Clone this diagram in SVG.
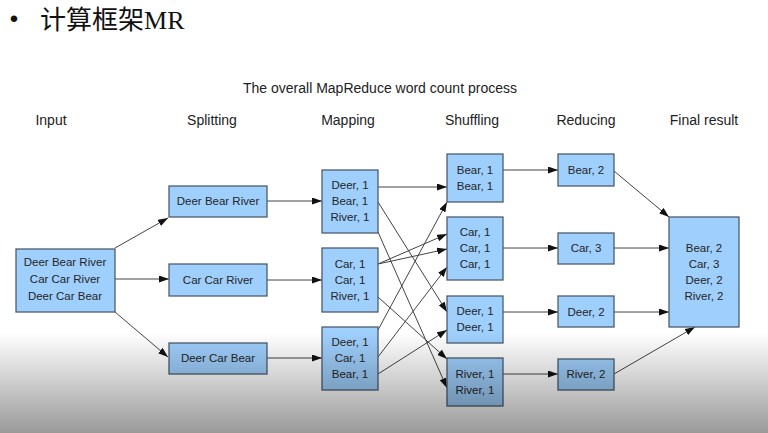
<svg xmlns="http://www.w3.org/2000/svg" width="768" height="433" viewBox="0 0 768 433">
<defs>
<marker id="ah" markerWidth="10" markerHeight="7" refX="10" refY="3.5" orient="auto" markerUnits="userSpaceOnUse">
<path d="M0,0 L10,3.5 L0,7 z" fill="#111"/>
</marker>
<linearGradient id="shade" x1="0" y1="0" x2="0" y2="1">
<stop offset="0" stop-color="#000" stop-opacity="0"/>
<stop offset="1" stop-color="#000" stop-opacity="0.4"/>
</linearGradient>
<style>
.box{fill:#9fcffc;stroke:#4d5d6d;stroke-width:1.3}
.t{font-family:"Liberation Sans",Arial,sans-serif;font-size:11.5px;fill:#252525;text-anchor:middle}
.h{font-family:"Liberation Sans",Arial,sans-serif;font-size:14px;fill:#222;text-anchor:middle}
.c{fill:none;stroke:#444;stroke-width:1;marker-end:url(#ah)}
</style>
</defs>
<rect width="768" height="433" fill="#fff"/>
<g id="heading">
<text x="14" y="27" font-family="Liberation Sans, sans-serif" font-size="24" text-anchor="middle" fill="#111">•</text>
<text x="40" y="29" font-size="26" fill="#111"><tspan font-family="Noto Sans CJK SC, sans-serif">计算框架</tspan><tspan font-family="Liberation Serif, serif">MR</tspan></text>
</g>
<g id="titles">
<text class="h" x="380" y="93">The overall MapReduce word count process</text>
<text class="h" x="51" y="125">Input</text>
<text class="h" x="212" y="125">Splitting</text>
<text class="h" x="348" y="125">Mapping</text>
<text class="h" x="472" y="125">Shuffling</text>
<text class="h" x="586" y="125">Reducing</text>
<text class="h" x="704" y="125">Final result</text>
</g>
<g id="connectors">
<line class="c" x1="115" y1="248" x2="168" y2="218"/>
<line class="c" x1="115" y1="279" x2="169" y2="279"/>
<line class="c" x1="115" y1="312" x2="168" y2="357"/>
<line class="c" x1="267" y1="201" x2="322" y2="201"/>
<line class="c" x1="267" y1="280" x2="322" y2="280"/>
<line class="c" x1="267" y1="358" x2="322" y2="358"/>
<line class="c" x1="378" y1="187" x2="447" y2="187"/>
<line class="c" x1="378" y1="202" x2="447" y2="312"/>
<line class="c" x1="378" y1="232" x2="447" y2="388"/>
<line class="c" x1="378" y1="264" x2="447" y2="234"/>
<line class="c" x1="378" y1="264" x2="447" y2="249"/>
<line class="c" x1="378" y1="297" x2="447" y2="359"/>
<line class="c" x1="378" y1="330" x2="447" y2="202"/>
<line class="c" x1="378" y1="357" x2="447" y2="267"/>
<line class="c" x1="378" y1="374" x2="447" y2="330"/>
<line class="c" x1="503" y1="170" x2="558" y2="170"/>
<line class="c" x1="503" y1="248" x2="558" y2="248"/>
<line class="c" x1="503" y1="312" x2="558" y2="312"/>
<line class="c" x1="503" y1="374" x2="558" y2="374"/>
<line class="c" x1="614" y1="171" x2="669" y2="217"/>
<line class="c" x1="614" y1="248" x2="669" y2="248"/>
<line class="c" x1="614" y1="312" x2="669" y2="312"/>
<line class="c" x1="614" y1="374" x2="695" y2="327"/>
</g>
<g id="input">
<rect class="box" x="16" y="249" width="99" height="63"/>
<text class="t" x="65" y="266">Deer Bear River</text>
<text class="t" x="65" y="283">Car Car River</text>
<text class="t" x="65" y="300">Deer Car Bear</text>
</g>
<g id="split1"><rect class="box" x="169" y="186" width="98" height="31"/><text class="t" x="218" y="205">Deer Bear River</text></g>
<g id="split2"><rect class="box" x="169" y="264" width="98" height="32"/><text class="t" x="218" y="284">Car Car River</text></g>
<g id="split3"><rect class="box" x="169" y="343" width="98" height="31"/><text class="t" x="218" y="362">Deer Car Bear</text></g>
<g id="map1"><rect class="box" x="322" y="170" width="56" height="63"/>
<text class="t" x="350" y="189">Deer, 1</text><text class="t" x="350" y="205">Bear, 1</text><text class="t" x="350" y="221">River, 1</text></g>
<g id="map2"><rect class="box" x="322" y="248" width="56" height="64"/>
<text class="t" x="350" y="268">Car, 1</text><text class="t" x="350" y="284">Car, 1</text><text class="t" x="350" y="300">River, 1</text></g>
<g id="map3"><rect class="box" x="322" y="327" width="56" height="63"/>
<text class="t" x="350" y="346">Deer, 1</text><text class="t" x="350" y="362">Car, 1</text><text class="t" x="350" y="378">Bear, 1</text></g>
<g id="shuf1"><rect class="box" x="447" y="154" width="56" height="48"/>
<text class="t" x="475" y="174">Bear, 1</text><text class="t" x="475" y="190">Bear, 1</text></g>
<g id="shuf2"><rect class="box" x="447" y="217" width="56" height="63"/>
<text class="t" x="475" y="236">Car, 1</text><text class="t" x="475" y="252">Car, 1</text><text class="t" x="475" y="268">Car, 1</text></g>
<g id="shuf3"><rect class="box" x="447" y="296" width="56" height="47"/>
<text class="t" x="475" y="315">Deer, 1</text><text class="t" x="475" y="331">Deer, 1</text></g>
<g id="shuf4"><rect class="box" x="447" y="358" width="56" height="48"/>
<text class="t" x="475" y="378">River, 1</text><text class="t" x="475" y="394">River, 1</text></g>
<g id="red1"><rect class="box" x="558" y="154" width="56" height="32"/><text class="t" x="586" y="174">Bear, 2</text></g>
<g id="red2"><rect class="box" x="558" y="233" width="56" height="31"/><text class="t" x="586" y="252">Car, 3</text></g>
<g id="red3"><rect class="box" x="558" y="296" width="56" height="31"/><text class="t" x="586" y="316">Deer, 2</text></g>
<g id="red4"><rect class="box" x="558" y="359" width="56" height="31"/><text class="t" x="586" y="378">River, 2</text></g>
<g id="final"><rect class="box" x="669" y="217" width="70" height="110"/>
<text class="t" x="704" y="252">Bear, 2</text><text class="t" x="704" y="268">Car, 3</text><text class="t" x="704" y="284">Deer, 2</text><text class="t" x="704" y="300">River, 2</text></g>
<rect x="0" y="333" width="768" height="100" fill="url(#shade)"/>
</svg>
